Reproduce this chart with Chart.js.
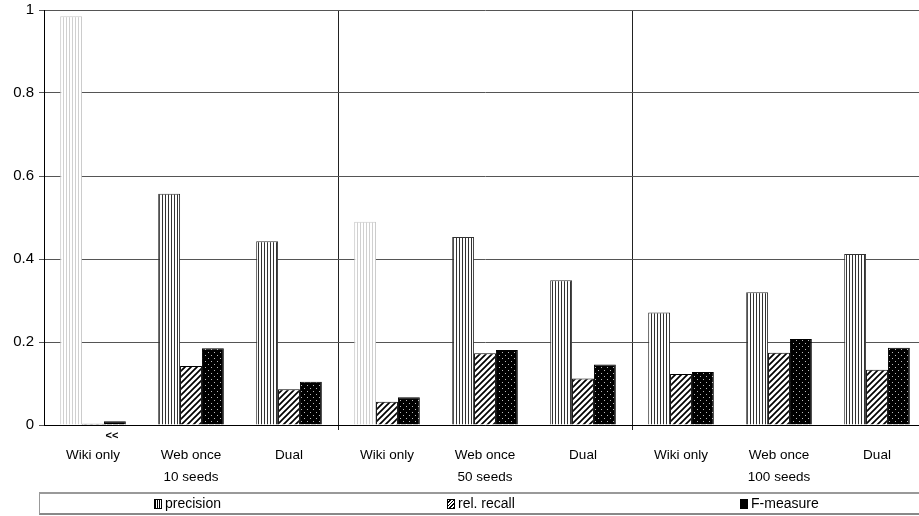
<!DOCTYPE html>
<html lang="en">
<head>
<meta charset="UTF-8">
<title>Precision, rel. recall, F-measure</title>
<script src="https://cdn.jsdelivr.net/npm/chart.js"></script>
<style>
  html, body { margin: 0; padding: 0; background: #fff; }
  body { width: 919px; height: 516px; overflow: hidden; position: relative;
         font-family: "Liberation Sans", Arial, sans-serif; }
  #wrap { position: absolute; left: 0; top: 0; width: 926px; height: 493px; }
  #legend { position: absolute; left: 39px; top: 492px; width: 890px; height: 23px;
            border-top: 2px solid #999; border-bottom: 2px solid #888; border-left: 1px solid #999;
            box-sizing: border-box; font-size: 14px; }
  #legend .item { position: absolute; top: 1px; white-space: nowrap; }
  #legend .sw { display: inline-block; width: 6px; height: 8px; border: 1px solid #000;
                margin-right: 3px; vertical-align: -1px; }
</style>
</head>
<body>
<div id="wrap"><canvas id="myChart" width="926" height="493"></canvas></div>
<div id="legend">
  <span class="item" style="left:114px"><span class="sw" style="background:repeating-linear-gradient(90deg,#000 0 1px,#fff 1px 2px)"></span>precision</span>
  <span class="item" style="left:407px"><span class="sw" style="background:repeating-linear-gradient(-45deg,#000 0 1.2px,#fff 1.2px 2.5px)"></span>rel. recall</span>
  <span class="item" style="left:700px"><span class="sw" style="background:#000"></span>F-measure</span>
</div>

<script>
// categories along the x axis, three per seed group
var categories = ['Wiki only', 'Web once', 'Dual',
                  'Wiki only', 'Web once', 'Dual',
                  'Wiki only', 'Web once', 'Dual'];
var groups = ['10 seeds', '50 seeds', '100 seeds'];

var precision = [0.985, 0.557, 0.443, 0.490, 0.453, 0.349, 0.271, 0.320, 0.412];
var relRecall = [0.003, 0.142, 0.086, 0.056, 0.173, 0.112, 0.123, 0.174, 0.133];
var fMeasure  = [0.009, 0.185, 0.104, 0.067, 0.181, 0.146, 0.128, 0.207, 0.186];

// bars drawn faded in the original (wiki only, 10 and 50 seeds)
var faded = [true, false, false, true, false, false, false, false, false];

var yTicks = [0, 0.2, 0.4, 0.6, 0.8, 1];

// second label line under the middle category of each group
var labels = categories.map(function(c, i) {
    return (i % 3 === 1) ? [c, groups[Math.floor(i / 3)]] : c;
});

function makePattern(kind, ink) {
    var c = document.createElement('canvas');
    var g = c.getContext('2d');
    if (kind === 'vert') {
        c.width = 3; c.height = 3;
        g.fillStyle = '#fff'; g.fillRect(0, 0, 3, 3);
        g.fillStyle = ink; g.fillRect(0, 0, 1, 3);
    } else if (kind === 'diag') {
        var s = 6;
        c.width = s; c.height = s;
        g.fillStyle = '#fff'; g.fillRect(0, 0, s, s);
        g.strokeStyle = ink; g.lineWidth = 1.7;
        g.beginPath();
        g.moveTo(0, s); g.lineTo(s, 0);
        g.moveTo(-1, 1); g.lineTo(1, -1);
        g.moveTo(s - 1, s + 1); g.lineTo(s + 1, s - 1);
        g.stroke();
    } else {
        c.width = 6; c.height = 6;
        g.fillStyle = '#000'; g.fillRect(0, 0, 6, 6);
        g.fillStyle = ink;
        g.fillRect(1, 1, 1, 1);
        g.fillRect(4, 4, 1, 1);
    }
    return g.createPattern(c, 'repeat');
}

var pVert = makePattern('vert', '#333');
var pVertLight = makePattern('vert', '#d0d0d0');
var pDiag = makePattern('diag', '#000');
var pDots = makePattern('dots', '#bbb');

var fontFamily = '"Liberation Sans", Arial, sans-serif';

// the "<<" note under the first group's recall / F bars
var notePlugin = {
    id: 'note',
    afterDraw: function(chart) {
        var a = chart.getDatasetMeta(1).data[0];
        var b = chart.getDatasetMeta(2).data[0];
        var ctx = chart.ctx;
        ctx.save();
        ctx.font = 'bold 11px ' + fontFamily;
        ctx.fillStyle = '#000';
        ctx.textAlign = 'center';
        ctx.textBaseline = 'middle';
        ctx.fillText('<<', (a.x + b.x) / 2 + 8, chart.chartArea.bottom + 11);
        ctx.restore();
    }
};

var ctx = document.getElementById('myChart').getContext('2d');
var myChart = new Chart(ctx, {
    type: 'bar',
    data: {
        labels: labels,
        datasets: [{
            label: 'precision',
            data: precision,
            backgroundColor: faded.map(function(f) { return f ? pVertLight : pVert; }),
            borderColor: faded.map(function(f) { return f ? '#c8c8c8' : '#333'; }),
            borderWidth: 1
        }, {
            label: 'rel. recall',
            data: relRecall,
            backgroundColor: pDiag,
            borderColor: '#000',
            borderWidth: 1
        }, {
            label: 'F-measure',
            data: fMeasure,
            backgroundColor: pDots,
            borderColor: '#000',
            borderWidth: 1
        }]
    },
    options: {
        responsive: false,
        animation: false,
        layout: { padding: { top: 10, right: 0, left: 0, bottom: 0 } },
        datasets: { bar: { categoryPercentage: 0.67, barPercentage: 1.0 } },
        plugins: {
            legend: { display: false },
            tooltip: { enabled: false }
        },
        scales: {
            x: {
                offset: true,
                grid: {
                    offset: true,
                    tickLength: 5,
                    color: function(c) {
                        return (c.index === 3 || c.index === 6) ? '#222' : 'rgba(0,0,0,0)';
                    }
                },
                border: { display: true, color: '#000' },
                ticks: {
                    color: '#000',
                    padding: 14,
                    maxRotation: 0,
                    autoSkip: false,
                    font: { family: fontFamily, size: 13.5, lineHeight: 1.63 }
                },
                afterFit: function(scale) { scale.height = 68; }
            },
            y: {
                min: 0,
                max: 1,
                afterBuildTicks: function(scale) {
                    scale.ticks = yTicks.map(function(v) { return { value: v }; });
                },
                grid: { color: '#555', tickLength: 5 },
                border: { display: true, color: '#000' },
                ticks: {
                    color: '#000',
                    padding: 5,
                    callback: function(v) { return String(v); },
                    font: { family: fontFamily, size: 15 }
                },
                afterFit: function(scale) {
                    scale.width = 44;
                    scale.paddingTop = 0;
                    scale.paddingBottom = 0;
                }
            }
        }
    },
    plugins: [notePlugin]
});
</script>
</body>
</html>
